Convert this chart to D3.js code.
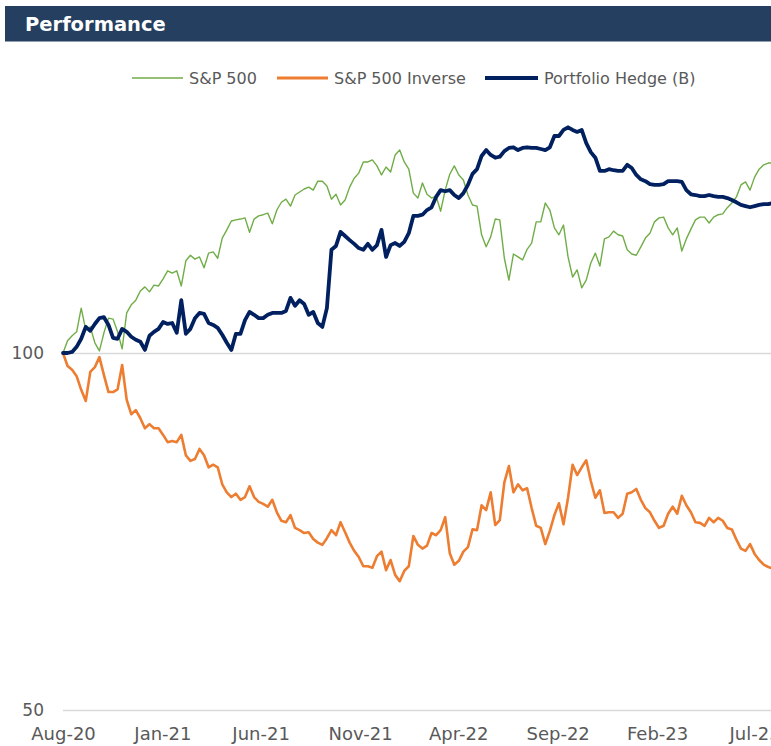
<!DOCTYPE html>
<html>
<head>
<meta charset="utf-8">
<script src="https://cdn.jsdelivr.net/npm/d3@7"></script>
<style>
  html, body { margin: 0; padding: 0; background: #ffffff; overflow: hidden; }
  svg { display: block; }
</style>
</head>
<body>
<svg id="chart" width="771" height="746"></svg>
<script>
// ---------------- DATA ----------------
const startDate = "2020-08-01";   // first weekly observation
const stepDays = 7;                // weekly observations

const sp500 = [
  100.0, 102.4, 103.4, 104.2, 109.1, 104.6, 105.2, 102.0, 100.4, 104.0,
  107.0, 106.8, 104.2, 100.8, 108.1, 109.8, 110.8, 112.8, 113.7, 112.6,
  114.1, 113.9, 115.5, 117.3, 116.8, 117.3, 113.9, 119.6, 120.9, 120.0,
  120.5, 118.0, 121.4, 121.7, 120.2, 125.0, 127.0, 129.2, 129.5, 129.7,
  130.0, 126.4, 129.7, 130.5, 130.8, 131.2, 128.5, 132.0, 134.0, 134.8,
  133.0, 135.9, 136.7, 137.5, 138.0, 137.2, 139.6, 139.6, 138.3, 134.8,
  136.1, 133.3, 134.6, 138.0, 140.4, 141.8, 144.9, 144.9, 145.5, 143.8,
  141.3, 143.5, 142.1, 146.9, 148.3, 144.9, 142.9, 136.4, 135.1, 139.1,
  136.1, 135.1, 135.6, 131.7, 137.2, 141.5, 143.8, 141.3, 139.9, 135.9,
  133.3, 133.0, 125.8, 122.9, 125.3, 129.7, 129.5, 120.2, 115.2, 121.2,
  120.5, 119.8, 122.3, 123.8, 129.0, 129.0, 133.8, 132.0, 127.5, 125.8,
  128.2, 120.5, 115.9, 117.5, 113.5, 115.2, 119.1, 121.4, 118.4, 124.8,
  125.3, 126.7, 125.8, 125.5, 122.2, 121.2, 120.9, 122.9, 125.0, 126.2,
  129.0, 130.0, 130.2, 127.5, 125.8, 127.5, 121.9, 124.8, 127.2, 129.5,
  130.2, 130.2, 128.7, 130.2, 130.8, 131.0, 132.6, 133.8, 135.4, 138.6,
  139.4, 137.2, 140.7, 142.9, 144.1, 144.6, 144.6
];

const sp500Inverse = [
  100.0, 97.5, 96.8, 95.6, 93.1, 91.1, 96.4, 97.3, 99.2, 95.8,
  92.7, 92.7, 93.2, 97.7, 91.3, 88.8, 89.5, 88.1, 86.4, 87.1,
  86.4, 86.4, 85.3, 84.1, 84.3, 84.1, 85.3, 82.0, 81.1, 81.4,
  83.0, 82.0, 80.1, 80.5, 80.1, 77.5, 76.3, 75.6, 76.1, 75.2,
  75.6, 77.2, 75.6, 74.9, 74.6, 74.2, 75.2, 73.4, 72.2, 72.0,
  73.0, 71.2, 70.9, 70.5, 70.6, 69.7, 69.2, 68.9, 69.8, 70.9,
  70.2, 72.0, 70.6, 69.2, 68.1, 67.3, 66.1, 66.1, 65.9, 67.4,
  68.0, 65.6, 66.9, 65.0, 64.2, 65.5, 66.1, 70.1, 68.9, 68.4,
  68.8, 70.5, 70.2, 70.9, 72.7, 67.8, 66.3, 66.8, 68.0, 68.6,
  71.0, 70.9, 74.4, 73.7, 76.3, 71.6, 72.3, 77.8, 80.3, 76.3,
  77.5, 76.6, 76.9, 74.0, 71.5, 71.2, 69.0, 70.8, 73.0, 74.7,
  71.7, 75.5, 80.5, 78.9, 80.1, 81.2, 78.0, 75.5, 76.6, 73.3,
  73.4, 73.4, 72.6, 73.2, 76.1, 76.3, 76.8, 75.2, 74.0, 73.4,
  72.2, 71.2, 71.5, 73.2, 74.2, 73.2, 75.8, 74.4, 73.4, 72.0,
  71.9, 71.5, 72.6, 72.0, 72.6, 72.2, 71.2, 71.0, 69.6, 68.4,
  68.1, 69.0, 67.7, 66.9, 66.3, 66.0, 65.8
];

const portfolioHedge = [
  100.0, 100.0, 100.2, 101.2, 102.8, 105.2, 104.4, 105.8, 107.0, 107.2,
  105.6, 103.0, 102.8, 104.8, 104.2, 103.2, 102.6, 102.2, 100.6, 103.4,
  104.2, 104.8, 106.2, 105.8, 106.0, 104.0, 110.8, 103.8, 104.8, 107.0,
  108.1, 107.9, 106.0, 105.6, 105.0, 103.6, 102.0, 100.6, 103.8, 103.8,
  106.6, 108.3, 107.7, 107.0, 107.0, 107.7, 108.1, 108.1, 108.1, 108.5,
  111.3, 109.6, 110.8, 110.0, 107.7, 108.3, 106.0, 105.2, 109.1, 122.2,
  123.1, 126.5, 125.5, 124.5, 123.6, 122.6, 122.2, 123.6, 122.2, 123.3,
  127.0, 120.5, 123.3, 123.8, 123.1, 124.1, 126.2, 130.5, 130.5, 130.8,
  132.0, 132.7, 135.4, 137.2, 136.9, 137.2, 135.9, 135.1, 136.4, 138.6,
  141.6, 142.9, 146.6, 148.3, 146.9, 146.1, 146.4, 148.0, 148.9, 149.1,
  148.3, 148.9, 149.1, 148.9, 148.9, 148.6, 148.3, 149.1, 152.4, 152.4,
  154.2, 155.0, 154.2, 153.6, 154.2, 150.3, 147.7, 146.1, 142.4, 142.4,
  142.9, 142.6, 142.4, 142.4, 144.1, 143.2, 141.3, 140.1, 139.6, 138.8,
  138.6, 138.6, 138.8, 139.6, 139.6, 139.6, 139.4, 137.2, 136.1, 135.9,
  135.6, 135.6, 135.9, 135.6, 135.4, 135.4, 135.1, 134.6, 134.0, 133.3,
  133.0, 132.7, 133.0, 133.3, 133.5, 133.5, 133.8
];

const seriesNames  = ["S&P 500", "S&P 500 Inverse", "Portfolio Hedge (B)"];
const seriesColors = ["#70ad47", "#ed7d31", "#002060"];

const xTickDates  = ["2020-08-01", "2021-01-01", "2021-06-01", "2021-11-01",
                     "2022-04-01", "2022-09-01", "2023-02-01", "2023-07-01"];
const xTickLabels = ["Aug-20", "Jan-21", "Jun-21", "Nov-21",
                     "Apr-22", "Sep-22", "Feb-23", "Jul-23"];
const yTicks = [50, 100];
const yDomain = [50, 200];
const xDomain = ["2020-08-01", "2023-08-01"];
const title = "Performance";

// ---------------- CHART ----------------
const W = 771, H = 746;
const svg = d3.select("#chart");
const parse = d3.timeParse("%Y-%m-%d");
const start = parse(startDate);
const dates = sp500.map((_, i) => d3.timeDay.offset(start, i * stepDays));

const plot = { left: 63, right: 774.75, top: -4, bottom: 710 };

const x = d3.scaleTime()
  .domain(xDomain.map(parse))
  .range([plot.left, plot.right]);
const y = d3.scaleLog()
  .domain(yDomain)
  .range([plot.bottom, plot.top]);

const FONT = "'DejaVu Sans', 'Open Sans', sans-serif";
const textColor = "#595959";

// Header bar
svg.append("rect")
  .attr("x", 5).attr("y", 6)
  .attr("width", W - 5).attr("height", 35.5)
  .attr("fill", "#253f60");
svg.append("text")
  .attr("x", 25).attr("y", 31)
  .attr("fill", "#ffffff")
  .attr("font-family", FONT)
  .attr("font-weight", "bold")
  .attr("font-size", 19.5)
  .text(title);

// Horizontal grid / axis lines at y ticks
const yAxis = d3.axisLeft(y)
  .tickValues(yTicks)
  .tickFormat(d3.format("d"))
  .tickSize(-(W - plot.left))
  .tickPadding(19);
const gy = svg.append("g")
  .attr("transform", `translate(${plot.left},0)`)
  .call(yAxis);
gy.select(".domain").remove();
gy.selectAll(".tick line")
  .attr("stroke", "#d9d9d9")
  .attr("stroke-width", 1.6);
gy.selectAll(".tick text")
  .attr("fill", textColor)
  .attr("font-family", FONT)
  .attr("font-size", 17);

// X axis labels
const xAxis = d3.axisBottom(x)
  .tickValues(xTickDates.map(parse))
  .tickFormat((d, i) => xTickLabels[i])
  .tickSize(0)
  .tickPadding(17);
const gx = svg.append("g")
  .attr("transform", `translate(0,${plot.bottom})`)
  .call(xAxis);
gx.select(".domain").remove();
gx.selectAll(".tick text")
  .attr("fill", textColor)
  .attr("font-family", FONT)
  .attr("font-size", 18);

// Lines
const line = d3.line()
  .x((d, i) => x(dates[i]))
  .y(d => y(d));

const widths = [1.4, 2.6, 3.8];
[sp500, sp500Inverse, portfolioHedge].forEach((s, k) => {
  svg.append("path")
    .datum(s)
    .attr("fill", "none")
    .attr("stroke", seriesColors[k])
    .attr("stroke-width", widths[k])
    .attr("stroke-linejoin", "round")
    .attr("stroke-linecap", "round")
    .attr("d", line);
});

// Legend
const legendX = [132, 277, 485];
const legendLineW = [51, 51, 53];
const legendStroke = [1.6, 3, 4];
const lg = svg.append("g");
seriesNames.forEach((name, k) => {
  lg.append("line")
    .attr("x1", legendX[k]).attr("x2", legendX[k] + legendLineW[k])
    .attr("y1", 78).attr("y2", 78)
    .attr("stroke", seriesColors[k])
    .attr("stroke-width", legendStroke[k]);
  lg.append("text")
    .attr("x", legendX[k] + legendLineW[k] + 6)
    .attr("y", 84)
    .attr("fill", textColor)
    .attr("font-family", FONT)
    .attr("font-size", 16)
    .text(name);
});
</script>
</body>
</html>
